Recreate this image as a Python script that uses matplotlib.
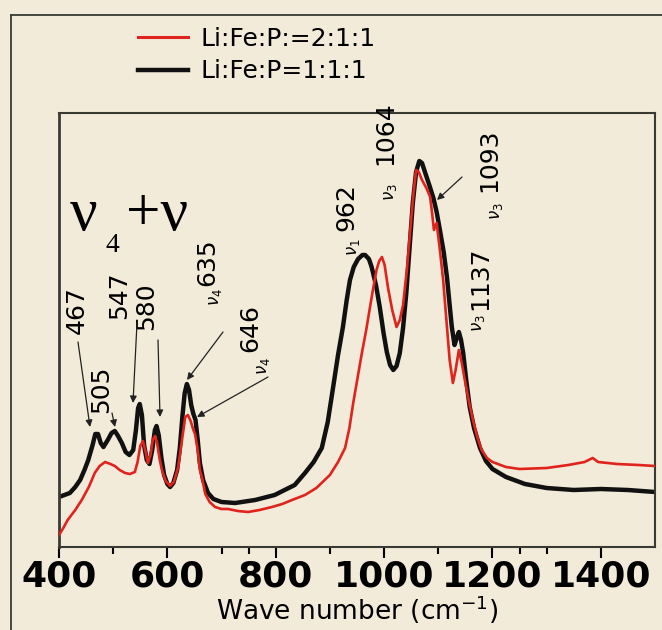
import matplotlib.pyplot as plt
from matplotlib.lines import Line2D
import numpy as np

# spectra: wavenumber (cm-1) and intensity (a.u., 0..1)
w_black = [400, 410, 420, 430, 439, 447, 454, 462, 467, 472, 477, 482, 490, 497, 503, 509, 516, 523, 530, 537,
           542, 546, 549, 553, 557, 562, 567, 572, 577, 580, 584, 589, 594, 600, 605, 611, 618, 623, 628, 632,
           636, 640, 644, 648, 652, 656, 660, 666, 675, 685, 700, 725, 762, 798, 835, 854, 870, 885, 896, 906,
           915, 924, 931, 937, 944, 952, 960, 965, 972, 977, 985, 992, 999, 1005, 1011, 1017, 1023, 1029, 1035, 1041,
           1047, 1053, 1059, 1065, 1070, 1076, 1084, 1091, 1097, 1103, 1110, 1116, 1121, 1125, 1130, 1134, 1138, 1142, 1146, 1152,
           1158, 1166, 1177, 1188, 1200, 1225, 1260, 1300, 1350, 1400, 1450, 1500]
px_black = [497, 495, 493, 487, 480, 470, 460, 445, 434, 434, 443, 447, 440, 433, 431, 436, 443, 452, 455, 450,
            430, 408, 404, 415, 445, 460, 464, 450, 430, 426, 435, 458, 475, 484, 487, 483, 470, 448, 415, 393,
            384, 390, 405, 414, 420, 440, 463, 480, 493, 499, 502, 503, 500, 495, 485, 473, 462, 448, 422, 387,
            355, 327, 300, 280, 267, 259, 255, 255, 259, 267, 285, 307, 333, 352, 365, 370, 366, 353, 328, 293,
            248, 203, 172, 161, 163, 173, 186, 198, 212, 230, 252, 277, 305, 327, 345, 338, 332, 340, 353, 382,
            407, 428, 448, 461, 469, 477, 484, 488, 490, 489, 490, 492]

w_red = [400, 408, 416, 430, 442, 455, 466, 475, 485, 495, 503, 512, 522, 531, 540, 545, 550, 555, 560, 564,
         569, 573, 577, 581, 586, 590, 597, 605, 612, 620, 627, 633, 638, 643, 648, 651, 656, 660, 664, 670,
         678, 688, 700, 712, 730, 749, 770, 793, 812, 830, 854, 875, 900, 915, 928, 936, 943, 951, 959, 967,
         974, 980, 986, 991, 996, 1001, 1007, 1015, 1023, 1029, 1035, 1042, 1048, 1054, 1059, 1064, 1070, 1078, 1085, 1089,
         1092, 1097, 1103, 1109, 1115, 1121, 1127, 1132, 1138, 1143, 1149, 1156, 1164, 1172, 1180, 1190, 1200, 1225, 1250, 1300,
         1340, 1370, 1385, 1395, 1430, 1470, 1500]
px_red = [535, 528, 520, 510, 500, 487, 473, 466, 462, 464, 466, 470, 473, 474, 472, 462, 446, 441, 452, 463,
          455, 440, 436, 443, 460, 470, 481, 486, 482, 467, 440, 417, 415, 421, 430, 434, 450, 470, 478, 494,
          502, 507, 509, 509, 511, 512, 510, 507, 504, 500, 495, 488, 475, 462, 448, 428, 403, 378, 353, 330,
          307, 288, 270, 261, 257, 265, 287, 310, 327, 320, 305, 270, 232, 195, 170, 172, 180, 188, 197, 215,
          230, 223, 250, 280, 320, 360, 383, 370, 350, 362, 380, 400, 420, 437, 450, 458, 462, 467, 469, 468,
          465, 462, 458, 462, 464, 465, 466]

i_black = (547 - np.array(px_black)) / 434.0
i_red = (547 - np.array(px_red)) / 434.0

labels = ['Li:Fe:P:=2:1:1', 'Li:Fe:P=1:1:1']
xticks = [400, 600, 800, 1000, 1200, 1400]
xminor = [500, 700, 750, 900, 1100, 1250, 1300]

bg = '#f2ebda'

def px2data(x, y):
    return 400 + (x - 59) / 0.5418, (547 - y) / 434.0

fig = plt.figure(figsize=(6.62, 6.30), dpi=100, facecolor=bg)
ax = fig.add_axes([59/662, 83/630, 596/662, 434/630], facecolor=bg)

ax.plot(w_red, i_red, color='#e0231c', lw=1.9, zorder=3)
ax.plot(w_black, i_black, color='#111111', lw=3.2, zorder=2)

ax.set_xlim(400, 1500)
ax.set_ylim(0, 1)
ax.set_yticks([])
ax.set_xticks(xticks)
ax.set_xticks(xminor, minor=True)
ax.tick_params(axis='x', which='major', direction='out', length=8, width=1.5, pad=1)
ax.tick_params(axis='x', which='minor', direction='out', length=5, width=1.5)
for lab in ax.get_xticklabels():
    lab.set_fontsize(26)
    lab.set_fontweight('bold')
    lab.set_family('DejaVu Sans')
for s in ax.spines.values():
    s.set_color('#3a3a35')
    s.set_linewidth(1.5)
ax.spines['left'].set_linewidth(2)
ax.set_xlabel('Wave number (cm$^{-1}$)', fontsize=19, labelpad=0)

# legend above the axes
handles = [Line2D([], [], color='#e0231c', lw=2.2), Line2D([], [], color='#111111', lw=3.2)]
fig.legend(handles, labels, loc='center', bbox_to_anchor=(257/662, 1 - 55/630), frameon=False,
           fontsize=18, handlelength=2.0, handletextpad=0.5, labelspacing=0.35)

# outer frame (top and left only)
fig.add_artist(Line2D([11/662, 1], [1 - 15/630, 1 - 15/630], color='#3a3a35', lw=1.3))
fig.add_artist(Line2D([11/662, 11/662], [0, 1 - 15/630], color='#3a3a35', lw=1.3))

# nu4 + nu
x, y = px2data(70, 230)
ax.text(x, y, 'ν', fontsize=44, family='Liberation Serif', va='baseline', ha='left')
x, y = px2data(126, 230)
ax.text(x, y, '+ν', fontsize=44, family='Liberation Serif', va='baseline', ha='left')
x, y = px2data(105, 252)
ax.text(x, y, '4', fontsize=20, family='Liberation Serif', va='baseline', ha='left')

# peak labels: (number, number centre px, nu label, nu centre px)
peaks = [
    ('467', (77, 310), None, None),
    ('505', (101, 389), None, None),
    ('547', (119, 295), None, None),
    ('580', (146, 306), None, None),
    ('635', (207, 262), r'$\nu_4$', (215, 297)),
    ('646', (250, 328), r'$\nu_4$', (263, 366)),
    ('962', (346, 207), r'$\nu_1$', (353, 247)),
    ('1064', (385, 133), r'$\nu_3$', (390, 192)),
    ('1093', (489, 160), r'$\nu_3$', (496, 211)),
    ('1137', (480, 278), r'$\nu_3$', (478, 323)),
]
for num, (nx, ny), nu, npos in peaks:
    x, y = px2data(nx, ny)
    ax.text(x, y, num, rotation=90, fontsize=18, ha='center', va='center', zorder=5)
    if nu:
        x, y = px2data(*npos)
        ax.text(x, y, nu, rotation=90, fontsize=12, ha='center', va='center', zorder=5)

# arrows: (tail px, head px)
arrows = [
    ((78, 342), (90, 427)),
    ((112, 413), (115, 427)),
    ((137, 323), (133, 403)),
    ((158, 340), (160, 417)),
    ((223, 332), (187, 380)),
    ((268, 377), (197, 417)),
    ((462, 177), (437, 200)),
]
for tail, head in arrows:
    ax.annotate('', xy=px2data(*head), xytext=px2data(*tail),
                arrowprops=dict(arrowstyle='-|>', color='#222222', lw=0.9, mutation_scale=10,
                                shrinkA=0, shrinkB=0), zorder=6)

fig.savefig('out.png', dpi=100, facecolor=bg)
